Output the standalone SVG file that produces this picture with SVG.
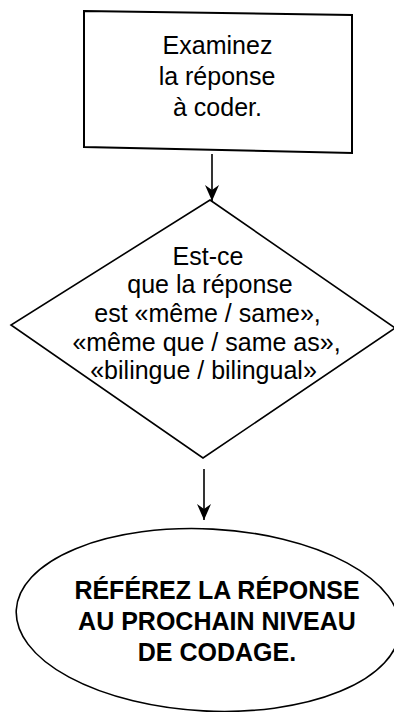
<svg xmlns="http://www.w3.org/2000/svg" width="394" height="712" viewBox="0 0 394 712">
<style>
.shape{fill:#fff;stroke:#000;stroke-width:1.6;stroke-linejoin:miter}
.t{font-family:"Liberation Sans",Arial,sans-serif;font-size:25px;fill:#000;text-anchor:middle}
.b{font-family:"Liberation Sans",Arial,sans-serif;font-size:25px;font-weight:bold;fill:#000;text-anchor:middle}
.conn{stroke:#000;stroke-width:1.6;fill:none}
</style>
<defs>
<marker id="ah" viewBox="0 0 16 14" refX="16" refY="7" markerWidth="16" markerHeight="14" markerUnits="userSpaceOnUse" orient="auto">
<path d="M0,0 L16,7 L0,14 L5,7 z" fill="#000"/>
</marker>
</defs>
<rect width="394" height="712" fill="#fff"/>
<g id="node-examinez">
<polygon class="shape" points="84,11 352,15 352,153 84,147" style="stroke-width:2"/>
<text class="t" x="217.5" y="54">Examinez</text>
<text class="t" x="217" y="85">la réponse</text>
<text class="t" x="217.5" y="116">à coder.</text>
</g>
<g id="node-question">
<polygon class="shape" points="210,200 395,328 203,458 11,325"/>
<text class="t" x="208" y="265">Est-ce</text>
<text class="t" x="210" y="293">que la réponse</text>
<text class="t" x="207.5" y="322">est «même / same»,</text>
<text class="t" x="206.5" y="351">«même que / same as»,</text>
<text class="t" x="203.5" y="379">«bilingue / bilingual»</text>
</g>
<g id="node-referez">
<ellipse class="shape" cx="208" cy="620" rx="192" ry="91" transform="rotate(3 208 620)"/>
<text class="b" x="217" y="599">RÉFÉREZ LA RÉPONSE</text>
<text class="b" x="217" y="630">AU PROCHAIN NIVEAU</text>
<text class="b" x="217" y="661">DE CODAGE.</text>
</g>
<g id="connectors">
<line class="conn" x1="212" y1="154" x2="212" y2="201" marker-end="url(#ah)"/>
<line class="conn" x1="204" y1="469" x2="204" y2="520" marker-end="url(#ah)"/>
</g>
</svg>
